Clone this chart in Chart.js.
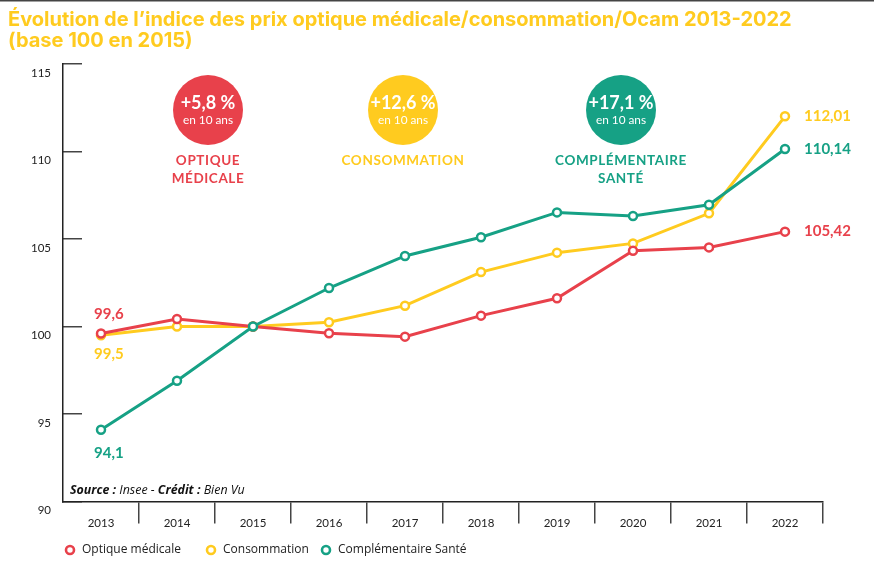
<!DOCTYPE html>
<html>
<head>
<meta charset="utf-8">
<script src="https://cdn.jsdelivr.net/npm/chart.js@4"></script>
<style>
html,body{margin:0;padding:0;background:#fff;}
#wrap{width:874px;height:565px;position:relative;}
</style>
</head>
<body>
<div id="wrap"><canvas id="c" width="874" height="565"></canvas></div>
<script>
const years = ['2013','2014','2015','2016','2017','2018','2019','2020','2021','2022'];
const optique = [99.6, 100.43, 100, 99.61, 99.42, 100.62, 101.61, 104.33, 104.52, 105.42];
const consommation = [99.5, 100.0, 100, 100.24, 101.19, 103.11, 104.22, 104.75, 106.47, 112.01];
const complementaire = [94.1, 96.9, 100, 102.2, 104.03, 105.1, 106.52, 106.31, 106.96, 110.14];
const seriesNames = ['Optique médicale', 'Consommation', 'Complémentaire Santé'];
const bubbleValues = ['+5,8 %', '+12,6 %', '+17,1 %'];
const bubbleSub = 'en 10 ans';
const bubbleTitles = [['OPTIQUE', 'MÉDICALE'], ['CONSOMMATION'], ['COMPLÉMENTAIRE', 'SANTÉ']];
const yTicks = [90, 95, 100, 105, 110, 115];
const titleLines = ['Évolution de l’indice des prix optique médicale/consommation/Ocam 2013-2022', '(base 100 en 2015)'];
const sourceParts = [['Source :', true], [' Insee - ', false], ['Crédit :', true], [' Bien Vu', false]];

const RED = '#E8414B', YELLOW = '#FFCB1F', GREEN = '#16A185';
const colors = [RED, YELLOW, GREEN];
const FONT = 'Lato, "Noto Sans", sans-serif';
const FONT2 = '"Open Sans", Lato, sans-serif';
const FONT3 = 'Inter, "Open Sans", sans-serif';
const fmt = v => String(v).replace('.', ',');

const annot = {
  id: 'annot',
  afterDraw(chart) {
    const {ctx, scales: {x, y}} = chart;
    ctx.save();
    // top rule
    ctx.strokeStyle = '#444'; ctx.lineWidth = 1.5;
    ctx.beginPath(); ctx.moveTo(0, 0.75); ctx.lineTo(874, 0.75); ctx.stroke();

    // bubbles
    const bx = [208, 403, 621], by = 110, br = 35;
    for (let i = 0; i < 3; i++) {
      ctx.fillStyle = colors[i];
      ctx.beginPath(); ctx.arc(bx[i], by, br, 0, Math.PI * 2); ctx.fill();
      ctx.fillStyle = '#fff'; ctx.textAlign = 'center'; ctx.textBaseline = 'middle';
      ctx.font = 'bold 18px ' + FONT;
      ctx.fillText(bubbleValues[i], bx[i], by - 7);
      ctx.font = '11.8px ' + FONT;
      ctx.fillText(bubbleSub, bx[i], by + 10.5);
      ctx.fillStyle = colors[i];
      ctx.font = 'bold 13.5px ' + FONT;
      bubbleTitles[i].forEach((t, k) => {
        ctx.letterSpacing = '0.6px';
        ctx.fillText(t, bx[i], 161 + k * 17.5);
      });
      ctx.letterSpacing = '0px';
    }

    // value labels
    const series = [optique, consommation, complementaire];
    ctx.font = 'bold 15px ' + FONT;
    ctx.textBaseline = 'middle';
    ctx.textAlign = 'left';
    const startOff = [-19, 19, 23];
    series.forEach((s, i) => {
      ctx.fillStyle = colors[i];
      const x0 = x.getPixelForValue(0), y0 = y.getPixelForValue(s[0]);
      ctx.fillText(fmt(s[0]), x0 - 7, y0 + startOff[i]);
      const n = s.length - 1;
      const x1 = x.getPixelForValue(n), y1 = y.getPixelForValue(s[n]);
      ctx.fillText(fmt(s[n]), x1 + 19, y1);
    });

    // source
    let sx = 70;
    ctx.fillStyle = '#111';
    ctx.textBaseline = 'alphabetic';
    sourceParts.forEach(([t, b]) => {
      ctx.font = 'italic ' + (b ? 'bold ' : '') + '12.4px ' + FONT2;
      ctx.fillText(t, sx, 494);
      sx += ctx.measureText(t).width;
    });

    // legend
    const lx = [70, 211, 326];
    ctx.font = '12px ' + FONT2;
    ctx.textBaseline = 'middle';
    seriesNames.forEach((n, i) => {
      ctx.beginPath(); ctx.arc(lx[i], 550, 4, 0, Math.PI * 2);
      ctx.fillStyle = '#fff'; ctx.fill();
      ctx.strokeStyle = colors[i]; ctx.lineWidth = 2.6; ctx.stroke();
      ctx.fillStyle = '#222';
      ctx.fillText(n, lx[i] + 12, 550);
    });
    ctx.restore();
  }
};

const mk = (label, data, color, order) => ({
  label, data, borderColor: color, backgroundColor: '#fff',
  borderWidth: 3, pointRadius: 4, pointHoverRadius: 4, pointBorderWidth: 2.5,
  pointBackgroundColor: '#fff', pointBorderColor: color, tension: 0, order
});

new Chart(document.getElementById('c'), {
  type: 'line',
  data: {
    labels: years,
    datasets: [
      mk(seriesNames[0], optique, RED, 1),
      mk(seriesNames[1], consommation, YELLOW, 2),
      mk(seriesNames[2], complementaire, GREEN, 0)
    ]
  },
  options: {
    responsive: false,
    animation: false,
    devicePixelRatio: 1,
    layout: {padding: {left: 8, right: 51, top: 0, bottom: 0}},
    plugins: {
      legend: {display: false},
      tooltip: {enabled: false},
      title: {
        display: true, align: 'start', text: titleLines, color: '#FFCB1F',
        font: {family: FONT3, size: 20, weight: 'bold', lineHeight: 1.05},
        padding: {top: 9, bottom: 13}
      }
    },
    scales: {
      x: {
        offset: true,
        grid: {
          offset: true, drawOnChartArea: false, tickLength: 22, lineWidth: 1.5,
          color: c => c.index === 0 ? 'rgba(0,0,0,0)' : '#444'
        },
        border: {display: true, color: '#222', width: 1.5},
        ticks: {color: '#222', font: {family: FONT, size: 11.5}, padding: -7, maxRotation: 0},
        afterFit: s => { s.height = 63.5; }
      },
      y: {
        min: 90, max: 115,
        afterBuildTicks: s => { s.ticks = yTicks.map(v => ({value: v})); },
        grid: {drawOnChartArea: false, tickLength: -19, lineWidth: 1.5, color: '#444'},
        border: {display: true, color: '#222', width: 1.5},
        ticks: {color: '#222', font: {family: FONT, size: 11.5}, padding: 31, labelOffset: 9},
        afterFit: s => { s.width = 55; }
      }
    }
  },
  plugins: [annot]
});
</script>
</body>
</html>
